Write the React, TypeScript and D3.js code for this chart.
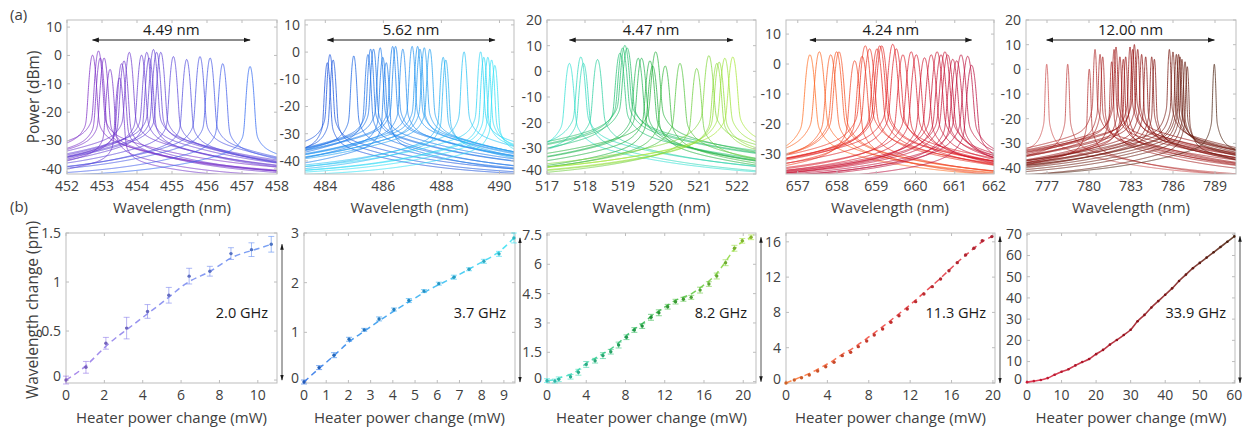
import React from "react"
import * as d3 from "d3"

const W = 1252
const H = 429
const FONT = "'Open Sans', 'Noto Sans', sans-serif"
const INK = "#404040"
const FRAME = "#bdbdbd"

// ---------- (a) spectra: peak centres (nm) and peak powers (dBm) ----------
const specCenters1 = [452.73, 452.9, 452.95, 453.06, 453.23, 453.5, 453.56, 453.63, 453.78, 454.13, 454.28, 454.35, 454.47, 454.56, 454.68, 455.04, 455.42, 455.8, 456.09, 456.45, 457.23]
const specPowers1 = [0, 1.5, -1, -1, -5, -8, -3, -2, 1, 0, 1, -1, 2, 1, 1, -0.5, -1.5, -0.5, -1, -3, -4]

const specCenters2 = [484.07, 484.16, 484.27, 484.98, 485.47, 485.56, 485.66, 485.89, 485.98, 486.1, 486.32, 486.42, 486.67, 486.99, 487.18, 487.26, 487.41, 487.6, 488.06, 488.15, 488.78, 489.35, 489.46, 489.6, 489.73, 489.84]
const specPowers2 = [-4, -1, -3, -1.5, -1, 1, 1, 1.5, -2, -4, 2, 2, 1, 2, 2, 1, 1.5, 1, -2, -3, 0, 0, -2, -2, -3, -5]

const specCenters3 = [517.59, 517.89, 517.96, 518.33, 518.92, 518.99, 519.05, 519.11, 519.4, 519.49, 519.71, 519.78, 519.86, 520.11, 520.5, 520.94, 521.26, 521.47, 521.53, 521.68, 521.89]
const specPowers3 = [3, 5.5, 3, 4.5, 7, 9, 10, 9, 5, 5, 4, 2, 7.5, 2, 3, 1, 6, 3, 3.5, 5, 5.5]

const specCenters4 = [657.31, 657.55, 657.84, 657.99, 658.05, 658.45, 658.64, 658.72, 658.83, 659.02, 659.09, 659.14, 659.42, 659.51, 659.68, 659.89, 660.02, 660.23, 660.4, 660.55, 660.65, 660.75, 660.82, 660.95, 661.05, 661.16, 661.33, 661.43]
const specPowers4 = [3, 4, 3, 4, 4, 1, 2.5, 6, 5, 5, 6, 6, 6.5, 5, 3, 4, 3, 2, 3, 4, 3, 4, 3, 1.5, 1, 3, 2.5, -0.5]

const specCenters5 = [776.98, 778.48, 780.02, 780.43, 780.79, 780.98, 781.62, 781.79, 781.93, 782.21, 782.45, 782.62, 782.93, 783.12, 783.24, 783.48, 783.76, 784.05, 784.48, 784.67, 785.74, 786.0, 786.24, 786.4, 786.5, 786.64, 786.86, 787.02, 788.95]
const specPowers5 = [2, 2, 0, 8, 6, 5, 3, 8, 9, 5, 4, 5, 9, 8, 10, 8, 6, 5, 5, 4, 8, 7, 6, 6, 5, 4, 3, 1, 2]

const spanLabels = ["4.49 nm", "5.62 nm", "4.47 nm", "4.24 nm", "12.00 nm"]

const specXTicks1 = [452, 453, 454, 455, 456, 457, 458]
const specXTicks2 = [484, 486, 488, 490]
const specXTicks3 = [517, 518, 519, 520, 521, 522]
const specXTicks4 = [657, 658, 659, 660, 661, 662]
const specXTicks5 = [777, 780, 783, 786, 789]

const specYTicks1 = [-40, -30, -20, -10, 0, 10]
const specYTicks2 = [-40, -30, -20, -10, 0, 10]
const specYTicks3 = [-40, -30, -20, -10, 0, 10, 20]
const specYTicks4 = [-30, -20, -10, 0, 10]
const specYTicks5 = [-40, -30, -20, -10, 0, 10, 20]

// ---------- (b) tuning: heater power (mW), wavelength change (pm), error (pm) ----------
const tunePower1 = [0, 1.04, 2.08, 3.16, 4.25, 5.36, 6.42, 7.5, 8.6, 9.67, 10.7]
const tuneShift1 = [0, 0.13, 0.375, 0.53, 0.7, 0.865, 1.06, 1.11, 1.29, 1.33, 1.385]
const tuneErr1 = [0.04, 0.06, 0.06, 0.11, 0.07, 0.08, 0.08, 0.05, 0.06, 0.07, 0.08]

const tunePower2 = [0, 0.68, 1.35, 2.03, 2.71, 3.38, 4.05, 4.72, 5.4, 6.07, 6.75, 7.43, 8.1, 8.78, 9.45]
const tuneShift2 = [0, 0.29, 0.54, 0.86, 1.05, 1.27, 1.46, 1.64, 1.83, 1.98, 2.11, 2.27, 2.43, 2.58, 2.9]
const tuneErr2 = [0.04, 0.04, 0.05, 0.04, 0.03, 0.04, 0.03, 0.04, 0.03, 0.03, 0.04, 0.03, 0.04, 0.05, 0.1]

const tunePower3 = [0, 0.8, 1.2, 2.4, 3.2, 4.0, 4.9, 5.7, 6.5, 7.3, 8.1, 8.9, 9.7, 10.6, 11.4, 12.3, 13.1, 13.9, 14.7, 15.6, 16.5, 17.3, 18.2, 19.1, 19.9, 20.8]
const tuneShift3 = [0.05, 0.03, 0.12, 0.25, 0.48, 0.88, 1.07, 1.33, 1.53, 1.87, 2.27, 2.64, 2.84, 3.29, 3.52, 3.83, 4.09, 4.21, 4.31, 4.68, 4.99, 5.4, 6.08, 6.82, 7.2, 7.38]
const tuneErr3 = [0.1, 0.1, 0.12, 0.12, 0.15, 0.15, 0.12, 0.15, 0.12, 0.15, 0.12, 0.12, 0.12, 0.15, 0.15, 0.12, 0.12, 0.1, 0.1, 0.15, 0.12, 0.15, 0.15, 0.15, 0.12, 0.12]

const tunePower4 = [0, 0.8, 1.5, 2.25, 3.06, 3.84, 4.64, 5.44, 6.25, 6.99, 7.8, 8.53, 9.34, 10.14, 10.92, 11.72, 12.53, 13.33, 14.14, 14.94, 15.75, 16.55, 17.36, 18.16, 18.97, 19.9]
const tuneShift4 = [0, 0.34, 0.6, 0.9, 1.36, 1.85, 2.35, 3.1, 3.48, 4.12, 4.76, 5.44, 6.12, 6.88, 7.63, 8.39, 9.22, 10.09, 10.92, 11.79, 12.73, 13.64, 14.51, 15.27, 16.13, 16.59]

const tunePower5 = [0, 2, 4, 6, 8, 10, 12, 14, 16, 18, 20, 22, 24, 26, 28, 30, 32, 34, 36, 38, 40, 42, 44, 46, 48, 50, 52, 54, 56, 58, 60]
const tuneShift5 = [0.3, 0.8, 1.3, 2.2, 3.8, 5.2, 6.4, 8.2, 9.8, 11.2, 13.5, 15.5, 18.0, 20.2, 22.5, 25.0, 29.0, 32.0, 35.5, 38.5, 41.5, 44.5, 48.0, 51.0, 54.0, 56.5, 59.0, 61.5, 64.0, 66.5, 69.0]

const tuneLabels = ["2.0 GHz", "3.7 GHz", "8.2 GHz", "11.3 GHz", "33.9 GHz"]

const tuneXTicks1 = [0, 2, 4, 6, 8, 10]
const tuneXTicks2 = [0, 1, 2, 3, 4, 5, 6, 7, 8, 9]
const tuneXTicks3 = [0, 4, 8, 12, 16, 20]
const tuneXTicks4 = [0, 4, 8, 12, 16, 20]
const tuneXTicks5 = [0, 10, 20, 30, 40, 50, 60]

const tuneYTicks1 = [0, 0.5, 1, 1.5]
const tuneYTicks2 = [0, 1, 2, 3]
const tuneYTicks3 = [0, 1.5, 3, 4.5, 6, 7.5]
const tuneYTicks4 = [0, 4, 8, 12, 16]
const tuneYTicks5 = [0, 10, 20, 30, 40, 50, 60, 70]

// ---------- layout / style ----------
type Box = { x0: number; x1: number; y0: number; y1: number }
type Shape = { sigma: number; a1: number; g1: number; a2: number; g2: number; floor: number }

const topY = [20, 174]
const botY = [233, 383]

const spectra = [
  { centers: specCenters1, powers: specPowers1, xd: [452, 458], yd: [-41.8, 12.5], xt: specXTicks1, yt: specYTicks1, bx: [67, 277], colors: ["#7d2cc4", "#5a44d8", "#2f66f0"], shape: { sigma: 0.05, a1: 0.02, g1: 0.08, a2: 0.0007, g2: 1.4, floor: -44 } },
  { centers: specCenters2, powers: specPowers2, xd: [483.3, 490.5], yd: [-44.8, 11.8], xt: specXTicks2, yt: specYTicks2, bx: [305, 514], colors: ["#1850dc", "#1e8ef0", "#2ee2f6"], shape: { sigma: 0.045, a1: 0.02, g1: 0.08, a2: 0.0006, g2: 1.6, floor: -47 } },
  { centers: specCenters3, powers: specPowers3, xd: [517, 522.5], yd: [-40, 20], xt: specXTicks3, yt: specYTicks3, bx: [547, 756], colors: ["#2ee0d2", "#1eae3c", "#a6e634"], shape: { sigma: 0.05, a1: 0.02, g1: 0.09, a2: 0.0004, g2: 1.5, floor: -44 } },
  { centers: specCenters4, powers: specPowers4, xd: [656.7, 662], yd: [-36.7, 14.7], xt: specXTicks4, yt: specYTicks4, bx: [786, 994], colors: ["#ff6a1e", "#e01c22", "#b80c3c"], shape: { sigma: 0.055, a1: 0.02, g1: 0.1, a2: 0.0004, g2: 1.6, floor: -40 } },
  { centers: specCenters5, powers: specPowers5, xd: [775.5, 790.5], yd: [-42.4, 20], xt: specXTicks5, yt: specYTicks5, bx: [1026, 1236], colors: ["#cc5050", "#960c0c", "#4e2412"], shape: { sigma: 0.05, a1: 0.015, g1: 0.12, a2: 0.0003, g2: 3.2, floor: -46 } },
]

const tunings = [
  { xs: tunePower1, ys: tuneShift1, errs: tuneErr1, xd: [0, 11], yd: [-0.03, 1.5], xt: tuneXTicks1, yt: tuneYTicks1, bx: [66, 277], colors: ["#9a72e6", "#7c86ee", "#5f90f2"], dash: "6,4" },
  { xs: tunePower2, ys: tuneShift2, errs: tuneErr2, xd: [0, 9.5], yd: [-0.02, 3], xt: tuneXTicks2, yt: tuneYTicks2, bx: [304, 515], colors: ["#2a6ee6", "#2ea8f0", "#36e4f2"], dash: "6,4" },
  { xs: tunePower3, ys: tuneShift3, errs: tuneErr3, xd: [0, 21.3], yd: [-0.07, 7.6], xt: tuneXTicks3, yt: tuneYTicks3, bx: [547, 756], colors: ["#3ee6dc", "#28b244", "#a8e23a"], dash: "6,4" },
  { xs: tunePower4, ys: tuneShift4, errs: null, xd: [0, 20.2], yd: [0, 17], xt: tuneXTicks4, yt: tuneYTicks4, bx: [786, 995], colors: ["#ff7a30", "#f03a3a", "#d42a3e"], dash: "6,4" },
  { xs: tunePower5, ys: tuneShift5, errs: null, xd: [0, 60.2], yd: [-0.1, 70.6], xt: tuneXTicks5, yt: tuneYTicks5, bx: [1027, 1235], colors: ["#e0203e", "#a0101c", "#4e2410"], dash: "none" },
]

// peak line shape: instrument-limited top plus lorentzian skirts over a noise floor
function levelDbm(l: number, c: number, p: number, s: Shape) {
  const d = l - c
  const g = Math.exp(-(d * d) / (2 * s.sigma * s.sigma))
  const l1 = s.a1 / (1 + (d / s.g1) ** 2)
  const l2 = s.a2 / (1 + (d / s.g2) ** 2)
  const lin = Math.pow(10, p / 10) * (g + l1 + l2) + Math.pow(10, s.floor / 10)
  return 10 * Math.log10(lin)
}

function Frame({ box, x, y, xt, yt }: { box: Box; x: any; y: any; xt: number[]; yt: number[] }) {
  const tl = 3
  return (
    <g>
      <rect x={box.x0} y={box.y0} width={box.x1 - box.x0} height={box.y1 - box.y0} fill="none" stroke={FRAME} strokeWidth={1} />
      {xt.map(v => (
        <g key={"x" + v}>
          <line x1={x(v)} x2={x(v)} y1={box.y1} y2={box.y1 - tl} stroke={FRAME} />
          <line x1={x(v)} x2={x(v)} y1={box.y0} y2={box.y0 + tl} stroke={FRAME} />
          <text x={x(v)} y={box.y1 + 17} textAnchor="middle" fontSize={14} fill={INK}>{String(v)}</text>
        </g>
      ))}
      {yt.map(v => {
        // a label sitting on the bottom edge is lifted a little so it clears the x labels
        const lift = Math.abs(y(v) - box.y1) < 3 ? -4 : 0
        return (
          <g key={"y" + v}>
            <line x1={box.x0} x2={box.x0 + tl} y1={y(v)} y2={y(v)} stroke={FRAME} />
            <line x1={box.x1} x2={box.x1 - tl} y1={y(v)} y2={y(v)} stroke={FRAME} />
            <text x={box.x0 - 5} y={y(v) + lift} dy="0.35em" textAnchor="end" fontSize={14} fill={INK}>{String(v)}</text>
          </g>
        )
      })}
    </g>
  )
}

function SpectrumPanel({ idx, cfg }: { idx: number; cfg: any }) {
  const box: Box = { x0: cfg.bx[0], x1: cfg.bx[1], y0: topY[0], y1: topY[1] }
  const x = d3.scaleLinear().domain(cfg.xd).range([box.x0, box.x1])
  const y = d3.scaleLinear().domain(cfg.yd).range([box.y1, box.y0])
  const [cMin, cMax] = d3.extent(cfg.centers as number[]) as [number, number]
  const color = d3.scaleLinear<string>().domain([cMin, (cMin + cMax) / 2, cMax]).range(cfg.colors).interpolate(d3.interpolateRgb)
  const line = d3.line<number[]>().x(d => x(d[0])).y(d => y(d[1]))
  const step = (cfg.xd[1] - cfg.xd[0]) / 900
  const grid = d3.range(cfg.xd[0], cfg.xd[1] + step / 2, step)
  const clipId = "clipA" + idx
  const ay = 40
  return (
    <g>
      <defs>
        <clipPath id={clipId}><rect x={box.x0} y={box.y0} width={box.x1 - box.x0} height={box.y1 - box.y0} /></clipPath>
      </defs>
      <g clipPath={`url(#${clipId})`}>
        {cfg.centers.map((c: number, k: number) => {
          const pts = grid.concat(d3.range(c - 0.4, c + 0.4, 0.004)).sort((a, b) => a - b)
          const data = pts.map(l => [l, levelDbm(l, c, cfg.powers[k], cfg.shape)])
          return <path key={k} d={line(data) || ""} fill="none" stroke={color(c)} strokeWidth={0.9} strokeOpacity={0.85} />
        })}
      </g>
      <Frame box={box} x={x} y={y} xt={cfg.xt} yt={cfg.yt} />
      <line x1={x(cMin)} x2={x(cMax)} y1={ay} y2={ay} stroke="#1a1a1a" strokeWidth={1} markerStart="url(#ahTop)" markerEnd="url(#ahTop)" />
      <text x={(x(cMin) + x(cMax)) / 2} y={ay - 5} textAnchor="middle" fontSize={15} fill="#1a1a1a">{spanLabels[idx]}</text>
      <text x={(box.x0 + box.x1) / 2} y={213} textAnchor="middle" fontSize={15} fill={INK}>Wavelength (nm)</text>
    </g>
  )
}

function TuningPanel({ idx, cfg }: { idx: number; cfg: any }) {
  const box: Box = { x0: cfg.bx[0], x1: cfg.bx[1], y0: botY[0], y1: botY[1] }
  const x = d3.scaleLinear().domain(cfg.xd).range([box.x0, box.x1])
  const y = d3.scaleLinear().domain(cfg.yd).range([box.y1, box.y0])
  const xs: number[] = cfg.xs
  const ys: number[] = cfg.ys
  const color = d3.scaleLinear<string>().domain([0, xs[xs.length - 1] / 2, xs[xs.length - 1]]).range(cfg.colors).interpolate(d3.interpolateRgb)
  const pts = xs.map((v, i) => [v, ys[i]])
  const solid = cfg.dash === "none"
  const fit = d3.line<number[]>().x(d => x(d[0])).y(d => y(d[1])).curve(solid ? d3.curveMonotoneX : d3.curveBundle.beta(0.85))
  const gid = "gradB" + idx
  const ymax = d3.max(ys) as number
  const ax = box.x1 + 5
  return (
    <g>
      <defs>
        <linearGradient id={gid} gradientUnits="userSpaceOnUse" x1={box.x0} x2={x(xs[xs.length - 1])} y1={0} y2={0}>
          {cfg.colors.map((c: string, i: number) => <stop key={i} offset={i / (cfg.colors.length - 1)} stopColor={c} />)}
        </linearGradient>
      </defs>
      <Frame box={box} x={x} y={y} xt={cfg.xt} yt={cfg.yt} />
      <path d={fit(pts) || ""} fill="none" stroke={`url(#${gid})`} strokeWidth={solid ? 1.6 : 1.5} strokeDasharray={solid ? undefined : cfg.dash} strokeOpacity={0.85} />
      {cfg.errs && xs.map((v, i) => {
        const e = cfg.errs[i]
        const c = color(v)
        return (
          <g key={"e" + i} stroke={c} strokeWidth={0.8} strokeOpacity={0.75}>
            <line x1={x(v)} x2={x(v)} y1={y(ys[i] - e)} y2={y(ys[i] + e)} />
            <line x1={x(v) - 3} x2={x(v) + 3} y1={y(ys[i] - e)} y2={y(ys[i] - e)} />
            <line x1={x(v) - 3} x2={x(v) + 3} y1={y(ys[i] + e)} y2={y(ys[i] + e)} />
          </g>
        )
      })}
      {xs.map((v, i) => (
        <circle key={"p" + i} cx={x(v)} cy={y(ys[i])} r={solid ? 1.3 : 1.7} fill={d3.color(color(v))!.darker(solid ? 0.3 : 0.6).formatHex()} />
      ))}
      <line x1={ax} x2={ax} y1={y(0)} y2={y(ymax)} stroke="#555" strokeWidth={1} markerStart="url(#ahSide)" markerEnd="url(#ahSide)" />
      <text x={box.x1 - 9} y={313} dy="0.35em" textAnchor="end" fontSize={14.5} fill="#1a1a1a">{tuneLabels[idx]}</text>
      <text x={(box.x0 + box.x1) / 2} y={423} textAnchor="middle" fontSize={15} fill={INK}>Heater power change (mW)</text>
    </g>
  )
}

export default function App() {
  return (
    <svg width={W} height={H} style={{ position: "absolute", left: 0, top: 0, background: "#fff" }} fontFamily={FONT}>
      <defs>
        <marker id="ahTop" viewBox="0 0 10 10" refX={9} refY={5} markerWidth={7} markerHeight={7} orient="auto-start-reverse">
          <path d="M0,1.5 L10,5 L0,8.5 z" fill="#1a1a1a" />
        </marker>
        <marker id="ahSide" viewBox="0 0 10 10" refX={9} refY={5} markerWidth={6} markerHeight={6} orient="auto-start-reverse">
          <path d="M0,2 L10,5 L0,8 z" fill="#1a1a1a" />
        </marker>
      </defs>
      <rect width={W} height={H} fill="#fff" />
      {spectra.map((cfg, i) => <SpectrumPanel key={"a" + i} idx={i} cfg={cfg} />)}
      {tunings.map((cfg, i) => <TuningPanel key={"b" + i} idx={i} cfg={cfg} />)}
      <text x={34} y={97} transform="rotate(-90 34 97)" dy="0.35em" textAnchor="middle" fontSize={15.5} fill={INK}>Power (dBm)</text>
      <text x={33} y={310} transform="rotate(-90 33 310)" dy="0.35em" textAnchor="middle" fontSize={15.5} fill={INK}>Wavelength change (pm)</text>
      <text x={10} y={20} fontSize={15} fill={INK}>(a)</text>
      <text x={10} y={212} fontSize={15} fill={INK}>(b)</text>
    </svg>
  )
}
